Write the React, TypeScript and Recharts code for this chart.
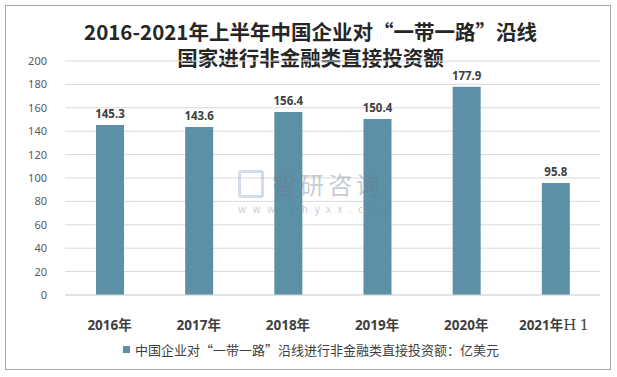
import React from "react";
import { BarChart, Bar, XAxis, YAxis, CartesianGrid, LabelList, Legend } from "recharts";

// 2016-2021H1 中国企业对“一带一路”沿线国家非金融类直接投资额（亿美元）
const years = ["2016年", "2017年", "2018年", "2019年", "2020年", "2021年H1"];
const amounts = [145.3, 143.6, 156.4, 150.4, 177.9, 95.8];
const yTicks = [0, 20, 40, 60, 80, 100, 120, 140, 160, 180, 200];

const seriesName = "中国企业对“一带一路”沿线进行非金融类直接投资额：亿美元";
const titleLines = ["2016-2021年上半年中国企业对“一带一路”沿线", "国家进行非金融类直接投资额"];

const data = years.map((y, i) => ({ year: y, value: amounts[i] }));

const FONT = "'Noto Sans', 'Noto Sans CJK SC', sans-serif";
const CJK = "'Noto Sans CJK SC', sans-serif";
const BAR = "#5b90a6";

function YearTick({ x, y, payload }: any) {
  const v: string = payload.value;
  const main = v.endsWith("H1") ? v.slice(0, -2) : v;
  return (
    <text x={x} y={y + 27} textAnchor="middle" fill="#404040" fontFamily={FONT} fontSize={13.5} fontWeight="bold">
      {main}
      {main !== v && (
        <tspan fontFamily="'DejaVu Serif', 'Liberation Serif', serif" fontWeight="normal" fontSize={15} letterSpacing={3}>
          H1
        </tspan>
      )}
    </text>
  );
}

function LegendBox() {
  return (
    <div style={{ display: "flex", alignItems: "center", justifyContent: "center", paddingLeft: 22, fontFamily: CJK, fontSize: 13, color: "#404040" }}>
      <span style={{ width: 7, height: 7, background: BAR, display: "inline-block", marginRight: 5 }} />
      <span>{seriesName}</span>
    </div>
  );
}

export default function App() {
  return (
    <div style={{ position: "absolute", left: 0, top: 0, width: 617, height: 377, background: "#fff" }}>
      <div style={{ position: "absolute", left: 5, top: 5, width: 604, height: 363, border: "1px solid #a6a6a6" }} />
      {titleLines.map((t, i) => (
        <div
          key={t}
          style={{
            position: "absolute",
            left: 2,
            top: 20 + i * 26,
            width: 617,
            textAlign: "center",
            fontFamily: CJK,
            fontSize: 20.5,
            fontWeight: "bold",
            color: "#262626",
            lineHeight: "22px",
          }}
        >
          {t}
        </div>
      ))}
      <div style={{ position: "absolute", left: 0, top: 0 }}>
        <BarChart width={617} height={377} data={data} margin={{ top: 61, right: 17, left: 0, bottom: 18 }}>
          <CartesianGrid vertical={false} stroke="#d9d9d9" />
          <XAxis dataKey="year" height={45} tickLine={false} axisLine={{ stroke: "#d9d9d9" }} tick={<YearTick />} interval={0} />
          <YAxis
            width={65}
            domain={[0, 200]}
            ticks={yTicks}
            axisLine={false}
            tickLine={false}
            tickMargin={12}
            tick={{ fill: "#595959", fontSize: 11, fontFamily: FONT }}
          />
          <Legend verticalAlign="bottom" content={<LegendBox />} />
          <Bar dataKey="value" name={seriesName} fill={BAR} barSize={28} isAnimationActive={false}>
            <LabelList dataKey="value" position="top" offset={7} fill="#404040" fontSize={11.5} fontWeight="bold" fontFamily={FONT} />
          </Bar>
        </BarChart>
      </div>
      <div style={{ position: "absolute", left: 238, top: 166, fontFamily: CJK, color: "rgba(110,120,135,0.4)", pointerEvents: "none" }}>
        <div style={{ display: "flex", alignItems: "center" }}>
          <span style={{ width: 20, height: 22, border: "3px solid rgba(140,170,210,0.4)", borderRadius: 3, marginRight: 8 }} />
          <span style={{ fontSize: 24, letterSpacing: 4 }}>智研咨询</span>
        </div>
        <div style={{ fontSize: 10, letterSpacing: 6.5 }}>www.chyxx.com</div>
      </div>
    </div>
  );
}
